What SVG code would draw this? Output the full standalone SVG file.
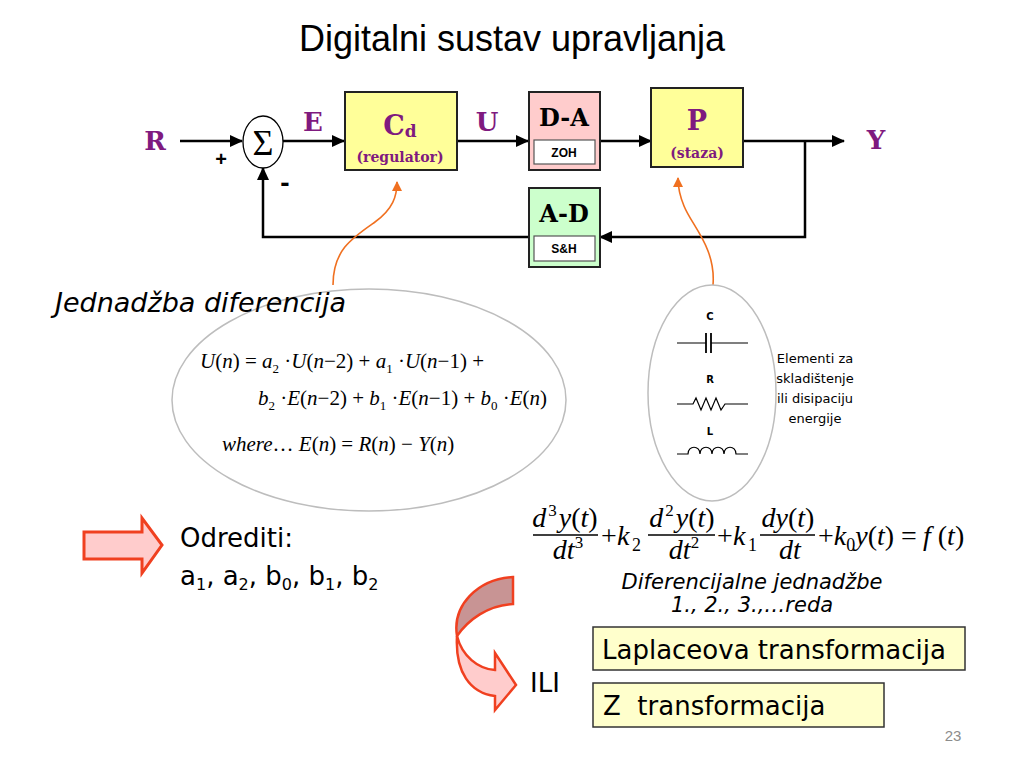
<svg xmlns="http://www.w3.org/2000/svg" width="1024" height="768" viewBox="0 0 1024 768">
<defs>
<marker id="ah" markerUnits="userSpaceOnUse" markerWidth="14" markerHeight="12" refX="12" refY="6" orient="auto"><path d="M0,0 L13,6 L0,12 z" fill="#000"/></marker>
<marker id="oh" markerUnits="userSpaceOnUse" markerWidth="10" markerHeight="10" refX="9" refY="5" orient="auto"><path d="M0,0 L10,5 L0,10 z" fill="#f07020"/></marker>
<style>
.ln{fill:none;stroke:#000;stroke-width:2.5}
.or{fill:none;stroke:#f07020;stroke-width:1.6}
.box{stroke:#222;stroke-width:2}
.blk{font-family:"DejaVu Serif","Liberation Serif",serif;font-weight:bold;text-anchor:middle}
.pur{fill:#7f1a7f}
.inner{fill:#fff;stroke:#555;stroke-width:1.2}
.sm{font-family:"Liberation Sans",Arial,sans-serif;font-weight:bold;font-size:12px;text-anchor:middle}
.eq{font-family:"Liberation Serif","Times New Roman",serif;font-size:21px;fill:#000}
.ode{font-family:"Liberation Serif","Times New Roman",serif;font-size:28px;fill:#000}
.i{font-style:italic}
.cm{font-family:"DejaVu Sans","Liberation Sans",sans-serif;fill:#000}
.gray{fill:none;stroke:#bdbdbd;stroke-width:1.5}
</style>
</defs>
<rect width="1024" height="768" fill="#fff"/>
<text x="512" y="51" font-family="Liberation Sans,Arial,sans-serif" font-size="36" text-anchor="middle" fill="#000">Digitalni sustav upravljanja</text>

<g id="connectors">
<path class="ln" d="M180,141 H242" marker-end="url(#ah)"/>
<path class="ln" d="M283,141 H344" marker-end="url(#ah)"/>
<path class="ln" d="M457,141 H528" marker-end="url(#ah)"/>
<path class="ln" d="M600,141 H651" marker-end="url(#ah)"/>
<path class="ln" d="M743,141 H844" marker-end="url(#ah)"/>
<path class="ln" d="M805,141 V237 H600" marker-end="url(#ah)"/>
<path class="ln" d="M528,237 H263 V168" marker-end="url(#ah)"/>
<path class="or" d="M333,285 C333,250 352,238 375,222 C393,209 397,196 397,182" marker-end="url(#oh)"/>
<path class="or" d="M713,285 C716,248 692,226 684,206 C679,194 678,187 678,178" marker-end="url(#oh)"/>
</g>

<g id="labels">
<text x="155" y="150" class="blk pur" font-size="26">R</text>
<text x="221" y="166" font-family="Liberation Sans,Arial,sans-serif" font-weight="bold" font-size="20" text-anchor="middle">+</text>
<text x="285" y="192" font-family="Liberation Sans,Arial,sans-serif" font-weight="bold" font-size="28" text-anchor="middle">-</text>
<text x="313" y="131" class="blk pur" font-size="26">E</text>
<text x="487" y="131" class="blk pur" font-size="26">U</text>
<text x="876" y="149" class="blk pur" font-size="26">Y</text>
</g>

<g id="sum">
<ellipse cx="263" cy="142" rx="20" ry="26" fill="#fff" stroke="#000" stroke-width="1.3"/>
<text x="263" y="155" font-family="Liberation Serif,serif" font-size="36" text-anchor="middle">Σ</text>
</g>

<g id="cd">
<rect x="345" y="92" width="112" height="78" class="box" fill="#ffff99"/>
<text x="400" y="135" class="blk pur" font-size="27">C<tspan font-size="17" dy="2">d</tspan></text>
<text x="400" y="162" class="blk pur" font-size="14">(regulator)</text>
</g>

<g id="da">
<rect x="529" y="92" width="71" height="78" class="box" fill="#ffcccc"/>
<text x="564" y="126" class="blk" font-size="24">D-A</text>
<rect x="534" y="140" width="61" height="24" class="inner"/>
<text x="564" y="157" class="sm">ZOH</text>
</g>

<g id="p">
<rect x="651" y="88" width="92" height="79" class="box" fill="#ffff99"/>
<text x="697" y="130" class="blk pur" font-size="27">P</text>
<text x="697" y="158" class="blk pur" font-size="14">(staza)</text>
</g>

<g id="ad">
<rect x="529" y="188" width="71" height="79" class="box" fill="#ccffcc"/>
<text x="564" y="222" class="blk" font-size="24">A-D</text>
<rect x="534" y="236" width="61" height="25" class="inner"/>
<text x="564" y="253" class="sm">S&amp;H</text>
</g>

<g id="diff-eq">
<ellipse cx="369" cy="400" rx="197" ry="111" class="gray"/>
<text x="55" y="312" class="cm" font-size="27" font-style="italic">Jednadžba diferencija</text>
<text x="200" y="368" class="eq"><tspan class="i">U</tspan>(<tspan class="i">n</tspan>) = <tspan class="i">a</tspan><tspan font-size="13" dy="5">2</tspan><tspan dy="-5"> ·</tspan><tspan class="i">U</tspan>(<tspan class="i">n</tspan>−2) + <tspan class="i">a</tspan><tspan font-size="13" dy="5">1</tspan><tspan dy="-5"> ·</tspan><tspan class="i">U</tspan>(<tspan class="i">n</tspan>−1) +</text>
<text x="258" y="405" class="eq"><tspan class="i">b</tspan><tspan font-size="13" dy="5">2</tspan><tspan dy="-5"> ·</tspan><tspan class="i">E</tspan>(<tspan class="i">n</tspan>−2) + <tspan class="i">b</tspan><tspan font-size="13" dy="5">1</tspan><tspan dy="-5"> ·</tspan><tspan class="i">E</tspan>(<tspan class="i">n</tspan>−1) + <tspan class="i">b</tspan><tspan font-size="13" dy="5">0</tspan><tspan dy="-5"> ·</tspan><tspan class="i">E</tspan>(<tspan class="i">n</tspan>)</text>
<text x="222" y="451" class="eq"><tspan class="i">where</tspan>… <tspan class="i">E</tspan>(<tspan class="i">n</tspan>) = <tspan class="i">R</tspan>(<tspan class="i">n</tspan>) − <tspan class="i">Y</tspan>(<tspan class="i">n</tspan>)</text>
</g>

<g id="elements">
<ellipse cx="712" cy="393" rx="64" ry="108" class="gray"/>
<g font-family="DejaVu Sans,sans-serif" font-weight="bold" font-size="10" text-anchor="middle">
<text x="710" y="320">C</text>
<text x="710" y="383">R</text>
<text x="710" y="435">L</text>
</g>
<g fill="none" stroke="#000" stroke-width="1.2">
<path d="M677,343 H706 M711,343 H748"/>
<path d="M706,333 V353 M711,333 V353" stroke-width="1.8"/>
<path d="M677,404 H693 L696,398 L701,410 L706,398 L711,410 L716,398 L721,410 L725,404 H748"/>
<path d="M677,454 H688 C688,445 700,445 700,454 C700,445 712,445 712,454 C712,445 724,445 724,454 C724,445 736,445 736,454 H748"/>
</g>
<g class="cm" font-size="13" text-anchor="middle">
<text x="815" y="363">Elementi za</text>
<text x="815" y="383">skladištenje</text>
<text x="815" y="403">ili disipaciju</text>
<text x="815" y="423">energije</text>
</g>
</g>

<g id="ode">
<g class="ode" text-anchor="middle">
<text x="565" y="527"><tspan class="i">d</tspan><tspan font-size="17" dx="2" dy="-11">3</tspan><tspan class="i" dx="2" dy="11">y</tspan>(<tspan class="i">t</tspan>)</text>
<text x="568" y="559"><tspan class="i">dt</tspan><tspan font-size="17" dy="-11">3</tspan></text>
<text x="682" y="527"><tspan class="i">d</tspan><tspan font-size="17" dx="2" dy="-11">2</tspan><tspan class="i" dx="2" dy="11">y</tspan>(<tspan class="i">t</tspan>)</text>
<text x="684" y="559"><tspan class="i">dt</tspan><tspan font-size="17" dy="-11">2</tspan></text>
<text x="788" y="527"><tspan class="i">dy</tspan>(<tspan class="i">t</tspan>)</text>
<text x="790" y="559"><tspan class="i">dt</tspan></text>
</g>
<path d="M533,535 H598 M648,535 H715 M760,535 H815" stroke="#000" stroke-width="1.3"/>
<text x="601" y="545" class="ode">+</text>
<text x="617" y="545" class="ode i">k</text>
<text x="632" y="551" font-family="Liberation Serif,serif" font-size="18">2</text>
<text x="717" y="545" class="ode">+</text>
<text x="733" y="545" class="ode i">k</text>
<text x="748" y="551" font-family="Liberation Serif,serif" font-size="18">1</text>
<text x="818" y="545" class="ode">+<tspan class="i">k</tspan><tspan font-size="18" dy="6">0</tspan><tspan class="i" dy="-6">y</tspan>(<tspan class="i">t</tspan>)</text>
<text x="901" y="545" class="ode">=</text>
<text x="923" y="545" class="ode"><tspan class="i">f</tspan> (<tspan class="i">t</tspan>)</text>
<text x="752" y="589" class="cm" font-size="21" font-style="italic" text-anchor="middle">Diferencijalne jednadžbe</text>
<text x="752" y="612" class="cm" font-size="21" font-style="italic" text-anchor="middle">1., 2., 3.,…reda</text>
</g>

<g id="odrediti">
<polygon points="84,532 142,532 142,518 162,545 142,573 142,559 84,559" fill="#ffcccc" stroke="#f04020" stroke-width="3" stroke-linejoin="miter"/>
<text x="180" y="547" class="cm" font-size="26">Odrediti:</text>
<text x="180" y="585" class="cm" font-size="26">a<tspan font-size="16" dy="5">1</tspan><tspan dy="-5">, a</tspan><tspan font-size="16" dy="5">2</tspan><tspan dy="-5">, b</tspan><tspan font-size="16" dy="5">0</tspan><tspan dy="-5">, b</tspan><tspan font-size="16" dy="5">1</tspan><tspan dy="-5">, b</tspan><tspan font-size="16" dy="5">2</tspan></text>
</g>

<g id="curved-arrow" stroke="#f04020" stroke-width="2.5" stroke-linejoin="miter">
<path d="M513,577 C478,579 452,605 457,636 C468,620 488,605 513,604 Z" fill="#c89494"/>
<path d="M457,636 C462,656 478,669 495,670 L495,653 L516,685 L495,710 L495,696 C470,693 455,672 457,636 Z" fill="#ffcccc"/>
</g>

<g id="transforms">
<text x="530" y="692" class="cm" font-size="26">ILI</text>
<rect x="593" y="627" width="372" height="43" fill="#ffffcc" stroke="#333" stroke-width="1.5"/>
<text x="602" y="659" class="cm" font-size="26">Laplaceova transformacija</text>
<rect x="593" y="683" width="291" height="44" fill="#ffffcc" stroke="#333" stroke-width="1.5"/>
<text x="603" y="715" class="cm" font-size="26" xml:space="preserve">Z  transformacija</text>
</g>

<text x="953" y="741" font-family="Liberation Sans,Arial,sans-serif" font-size="15" fill="#8c8c8c" text-anchor="middle">23</text>
</svg>
